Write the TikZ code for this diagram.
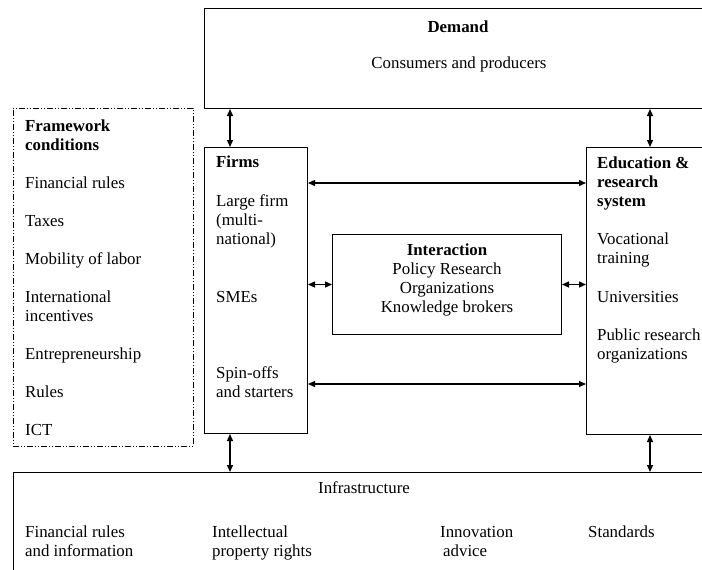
\documentclass[tikz,border=0pt]{standalone}
\usepackage{fontspec}
\setmainfont{Liberation Serif}
\usetikzlibrary{arrows.meta}
\begin{document}
\begin{tikzpicture}[x=1pt,y=-1pt,
  box/.style={draw, line width=1pt, anchor=north west, inner sep=0pt},
  fwbox/.style={draw, line width=0.9pt, anchor=north west, inner sep=0pt,
    dash pattern=on 6pt off 2pt on 1pt off 2pt on 1pt off 2pt},
  txt/.style={anchor=base west, inner sep=0pt, font=\fontsize{16.85}{19}\selectfont},
  ctxt/.style={anchor=base, inner sep=0pt, font=\fontsize{16.85}{19}\selectfont},
  dbl/.style={{Triangle[length=7pt,width=6pt]}-{Triangle[length=7pt,width=6pt]}, line width=1.3pt}]
\useasboundingbox (0,0) rectangle (702,570);
\clip (0,0) rectangle (702,570);

% boxes
\node[box, minimum width=510pt, minimum height=100pt] (demand) at (204,8) {};
\node[fwbox, minimum width=180pt, minimum height=338pt] (frame) at (13,108) {};
\node[box, minimum width=103pt, minimum height=286pt] (firms) at (204,147) {};
\node[box, minimum width=130pt, minimum height=287pt] (edu) at (586,147) {};
\node[box, minimum width=229pt, minimum height=100pt] (inter) at (332,234) {};
\node[box, minimum width=700pt, minimum height=120pt] (infra) at (13,472) {};

% demand
\node[ctxt] (dmT) at (458,32) {\bfseries Demand};
\node[ctxt] (dm1) at (459,68) {Consumers and producers};

% framework conditions
\node[txt] (fwT1) at (25,131) {\bfseries Framework};
\node[txt] (fwT2) at (25,150) {\bfseries conditions};
\node[txt] (fw1) at (25,188) {Financial rules};
\node[txt] (fw2) at (25,226) {Taxes};
\node[txt] (fw3) at (25,264) {Mobility of labor};
\node[txt] (fw4a) at (25,302) {International};
\node[txt] (fw4b) at (25,321) {incentives};
\node[txt] (fw5) at (25,359) {Entrepreneurship};
\node[txt] (fw6) at (25,397) {Rules};
\node[txt] (fw7) at (25,435) {ICT};

% firms
\node[txt] (fmT) at (216,167) {\bfseries Firms};
\node[txt] (fm1a) at (216,206) {Large firm};
\node[txt] (fm1b) at (216,225) {(multi-};
\node[txt] (fm1c) at (216,244) {national)};
\node[txt] (fm2) at (216,302) {SMEs};
\node[txt] (fm3a) at (216,378) {Spin-offs};
\node[txt] (fm3b) at (216,397) {and starters};

% education and research system
\node[txt] (edT1) at (597,168) {\bfseries Education \&};
\node[txt] (edT2) at (597,187) {\bfseries research};
\node[txt] (edT3) at (597,206) {\bfseries system};
\node[txt] (ed1a) at (597,244) {Vocational};
\node[txt] (ed1b) at (597,263) {training};
\node[txt] (ed2) at (597,302) {Universities};
\node[txt] (ed3a) at (597,340) {Public research};
\node[txt] (ed3b) at (597,359) {organizations};

% interaction
\node[ctxt] (inT) at (447,255) {\bfseries Interaction};
\node[ctxt] (in1) at (447,274) {Policy Research};
\node[ctxt] (in2) at (447,293) {Organizations};
\node[ctxt] (in3) at (447,312) {Knowledge brokers};

% infrastructure
\node[ctxt] (ifT) at (364,493) {Infrastructure};
\node[txt] (if1a) at (25,537) {Financial rules};
\node[txt] (if1b) at (25,556) {and information};
\node[txt] (if2a) at (212,537) {Intellectual};
\node[txt] (if2b) at (212,556) {property rights};
\node[txt] (if3a) at (440,537) {Innovation};
\node[txt] (if3b) at (443,556) {advice};
\node[txt] (if4) at (588,537) {Standards};

% connectors
\coordinate (xl) at (230,0);
\coordinate (xr) at (650,0);
\coordinate (yt) at (0,183);
\coordinate (yb) at (0,384);
\draw[dbl] (demand.south -| xl) -- (firms.north -| xl);
\draw[dbl] (demand.south -| xr) -- (edu.north -| xr);
\draw[dbl] (firms.south -| xl) -- (infra.north -| xl);
\draw[dbl] (edu.south -| xr) -- (infra.north -| xr);
\draw[dbl] (firms.east |- yt) -- (edu.west |- yt);
\draw[dbl] (firms.east |- yb) -- (edu.west |- yb);
\draw[dbl] (firms.east |- inter.center) -- (inter.west);
\draw[dbl] (inter.east) -- (edu.west |- inter.center);
\end{tikzpicture}
\end{document}
